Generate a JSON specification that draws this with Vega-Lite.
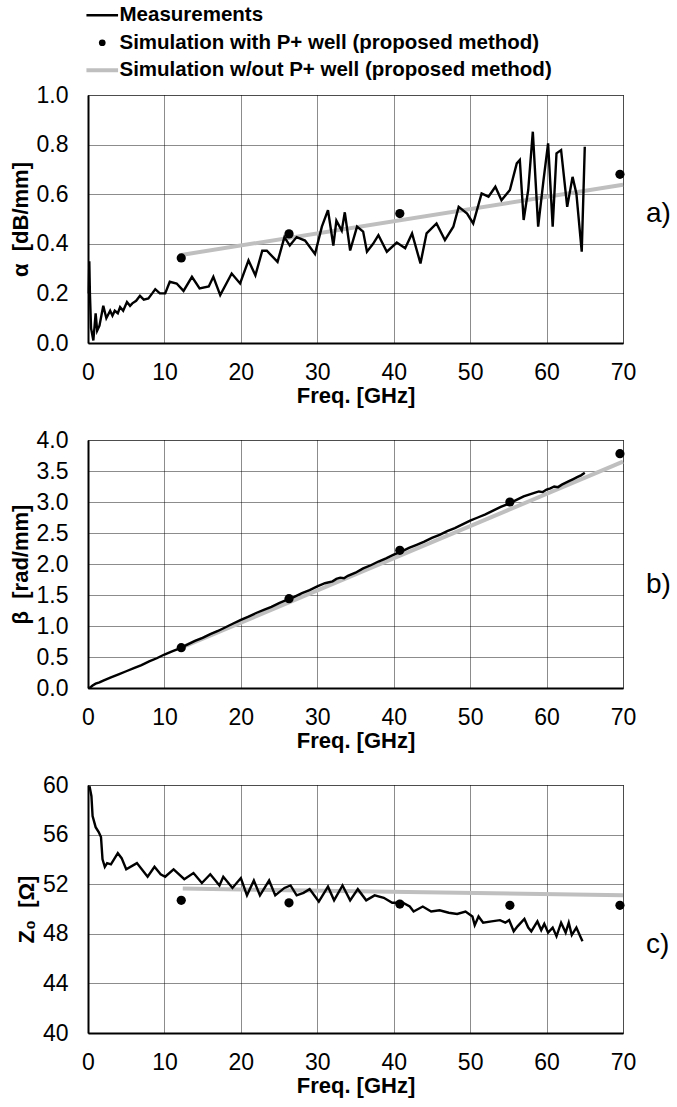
{
  "$schema": "https://vega.github.io/schema/vega-lite/v6.json",
  "padding": {"left": 8, "top": 5, "right": 2, "bottom": 5},
  "config": {
    "font": "Liberation Sans",
    "view": {"stroke": "#8c8c8c", "strokeWidth": 1},
    "axis": {
      "labelFont": "Liberation Sans", "labelFontSize": 23, "labelColor": "black",
      "titleFont": "Liberation Sans", "titleFontSize": 22, "titleFontWeight": "bold", "titleColor": "black",
      "domainColor": "black", "domainWidth": 2,
      "gridColor": "black", "gridDash": [1, 1], "gridOpacity": 0.9, "gridWidth": 1,
      "ticks": false, "labelFlush": false, "labelOverlap": false
    },
    "axisX": {"labelPadding": 18, "titlePadding": 1},
    "axisY": {"labelPadding": 20, "titlePadding": 4},
    "concat": {"spacing": 21}
  },
  "datasets": {
    "a_meas": [
      {"f":0.1,"v":0.2},{"f":0.17,"v":0.33},{"f":0.25,"v":0.2},{"f":0.4,"v":0.06},{"f":0.7,"v":0.01},{"f":1.0,"v":0.12},{"f":1.2,"v":0.05},{"f":1.5,"v":0.07},{"f":2.0,"v":0.15},{"f":2.4,"v":0.1},{"f":2.9,"v":0.13},{"f":3.2,"v":0.11},{"f":3.5,"v":0.13},{"f":3.9,"v":0.12},{"f":4.2,"v":0.145},{"f":4.6,"v":0.13},{"f":5.1,"v":0.165},{"f":5.5,"v":0.15},{"f":5.8,"v":0.16},{"f":6.3,"v":0.17},{"f":6.8,"v":0.19},{"f":7.3,"v":0.175},{"f":7.9,"v":0.18},{"f":8.4,"v":0.2},{"f":8.8,"v":0.217},{"f":9.4,"v":0.2},{"f":10.1,"v":0.2},{"f":10.7,"v":0.247},{"f":11.6,"v":0.24},{"f":12.5,"v":0.21},{"f":13.6,"v":0.267},{"f":14.6,"v":0.22},{"f":15.8,"v":0.228},{"f":16.4,"v":0.267},{"f":17.3,"v":0.193},{"f":18.8,"v":0.28},{"f":19.9,"v":0.24},{"f":21.0,"v":0.333},{"f":21.9,"v":0.273},{"f":22.8,"v":0.372},{"f":23.4,"v":0.372},{"f":24.8,"v":0.327},{"f":25.7,"v":0.427},{"f":26.4,"v":0.393},{"f":27.3,"v":0.427},{"f":28.4,"v":0.413},{"f":29.7,"v":0.359},{"f":30.6,"v":0.469},{"f":31.4,"v":0.536},{"f":32.1,"v":0.393},{"f":32.5,"v":0.493},{"f":33.2,"v":0.453},{"f":33.6,"v":0.527},{"f":34.3,"v":0.373},{"f":35.2,"v":0.469},{"f":36.0,"v":0.449},{"f":36.5,"v":0.368},{"f":37.3,"v":0.40},{"f":38.0,"v":0.435},{"f":39.1,"v":0.368},{"f":40.4,"v":0.405},{"f":41.5,"v":0.382},{"f":42.4,"v":0.442},{"f":43.5,"v":0.321},{"f":44.3,"v":0.442},{"f":45.6,"v":0.482},{"f":46.7,"v":0.415},{"f":47.8,"v":0.469},{"f":48.5,"v":0.549},{"f":49.6,"v":0.522},{"f":50.4,"v":0.482},{"f":51.5,"v":0.603},{"f":52.4,"v":0.59},{"f":53.3,"v":0.63},{"f":54.1,"v":0.576},{"f":55.2,"v":0.617},{"f":56.1,"v":0.724},{"f":56.5,"v":0.738},{"f":57.0,"v":0.496},{"f":57.6,"v":0.617},{"f":58.2,"v":0.852},{"f":58.9,"v":0.469},{"f":59.6,"v":0.657},{"f":60.2,"v":0.805},{"f":60.8,"v":0.469},{"f":61.3,"v":0.765},{"f":61.9,"v":0.778},{"f":62.7,"v":0.549},{"f":63.4,"v":0.67},{"f":63.9,"v":0.603},{"f":64.6,"v":0.368},{"f":65.0,"v":0.791}
    ],
    "a_simw": [{"f":12.2,"v":0.343},{"f":26.3,"v":0.44},{"f":40.8,"v":0.522},{"f":69.6,"v":0.68}],
    "a_simwo": [{"f":12.2,"v":0.355},{"f":70,"v":0.638}],
    "b_meas": [
      {"f":0,"v":0},{"f":0.3,"v":0.01},{"f":0.6,"v":0.04},{"f":1,"v":0.07},{"f":1.5,"v":0.09},{"f":2,"v":0.12},{"f":3,"v":0.17},{"f":4,"v":0.22},{"f":5,"v":0.27},{"f":6,"v":0.32},{"f":7,"v":0.37},{"f":8,"v":0.43},{"f":9,"v":0.48},{"f":10,"v":0.54},{"f":11,"v":0.59},{"f":12,"v":0.64},{"f":13,"v":0.7},{"f":14,"v":0.76},{"f":15,"v":0.81},{"f":16,"v":0.87},{"f":17,"v":0.92},{"f":18,"v":0.98},{"f":19,"v":1.04},{"f":20,"v":1.1},{"f":21,"v":1.15},{"f":22,"v":1.21},{"f":23,"v":1.26},{"f":24,"v":1.31},{"f":25,"v":1.37},{"f":26,"v":1.42},{"f":27,"v":1.47},{"f":28,"v":1.53},{"f":29,"v":1.58},{"f":30,"v":1.64},{"f":31,"v":1.69},{"f":32,"v":1.72},{"f":32.5,"v":1.76},{"f":33,"v":1.78},{"f":33.5,"v":1.77},{"f":34,"v":1.81},{"f":35,"v":1.86},{"f":36,"v":1.93},{"f":37,"v":1.98},{"f":38,"v":2.04},{"f":39,"v":2.09},{"f":40,"v":2.15},{"f":41,"v":2.2},{"f":42,"v":2.26},{"f":43,"v":2.31},{"f":44,"v":2.36},{"f":45,"v":2.42},{"f":46,"v":2.47},{"f":47,"v":2.53},{"f":48,"v":2.58},{"f":49,"v":2.64},{"f":50,"v":2.7},{"f":51,"v":2.75},{"f":52,"v":2.8},{"f":53,"v":2.86},{"f":54,"v":2.92},{"f":55,"v":2.97},{"f":56,"v":3.03},{"f":57,"v":3.09},{"f":58,"v":3.13},{"f":58.5,"v":3.15},{"f":59,"v":3.17},{"f":59.5,"v":3.16},{"f":60,"v":3.2},{"f":60.5,"v":3.22},{"f":61,"v":3.25},{"f":61.5,"v":3.24},{"f":62,"v":3.28},{"f":63,"v":3.34},{"f":63.5,"v":3.37},{"f":64,"v":3.4},{"f":64.5,"v":3.43},{"f":65,"v":3.47}
    ],
    "b_simw": [{"f":12.2,"v":0.65},{"f":26.3,"v":1.44},{"f":40.8,"v":2.22},{"f":55.2,"v":3.0},{"f":69.6,"v":3.78}],
    "b_simwo": [{"f":12.2,"v":0.65},{"f":70,"v":3.65}],
    "c_meas": [
      {"f":0.2,"v":59.9},{"f":0.45,"v":59.1},{"f":0.6,"v":57.5},{"f":1.0,"v":56.6},{"f":1.4,"v":56.2},{"f":1.7,"v":55.8},{"f":1.9,"v":54.0},{"f":2.2,"v":53.4},{"f":2.5,"v":53.7},{"f":3.0,"v":53.6},{"f":3.9,"v":54.5},{"f":4.4,"v":54.1},{"f":5.0,"v":53.2},{"f":6.4,"v":53.7},{"f":7.8,"v":52.6},{"f":8.7,"v":53.4},{"f":9.5,"v":52.8},{"f":10.1,"v":52.6},{"f":11.2,"v":53.2},{"f":12.6,"v":52.4},{"f":13.8,"v":52.9},{"f":14.9,"v":52.1},{"f":16.0,"v":52.8},{"f":17.2,"v":51.9},{"f":17.7,"v":52.6},{"f":18.9,"v":51.7},{"f":20.0,"v":52.5},{"f":20.8,"v":51.1},{"f":21.7,"v":52.3},{"f":22.5,"v":51.1},{"f":23.7,"v":52.3},{"f":24.5,"v":51.1},{"f":25.7,"v":51.7},{"f":26.5,"v":51.9},{"f":27.3,"v":51.1},{"f":28.2,"v":51.3},{"f":29.0,"v":51.6},{"f":30.2,"v":50.6},{"f":31.4,"v":51.8},{"f":32.2,"v":50.7},{"f":33.3,"v":51.9},{"f":34.3,"v":50.7},{"f":35.3,"v":51.6},{"f":36.4,"v":50.7},{"f":37.5,"v":51.1},{"f":38.7,"v":50.9},{"f":39.8,"v":50.5},{"f":41.2,"v":50.5},{"f":42.1,"v":50.2},{"f":42.6,"v":49.8},{"f":43.8,"v":50.2},{"f":44.9,"v":49.8},{"f":46.0,"v":49.9},{"f":47.2,"v":49.7},{"f":48.3,"v":49.6},{"f":49.4,"v":49.8},{"f":50.3,"v":49.4},{"f":50.6,"v":48.7},{"f":51.1,"v":49.4},{"f":51.7,"v":48.9},{"f":52.8,"v":49.0},{"f":53.9,"v":49.1},{"f":54.6,"v":48.9},{"f":55.1,"v":49.1},{"f":55.7,"v":48.2},{"f":56.2,"v":48.6},{"f":57.1,"v":49.2},{"f":57.6,"v":48.5},{"f":58.0,"v":48.2},{"f":58.8,"v":49.0},{"f":59.3,"v":48.3},{"f":59.7,"v":48.8},{"f":60.2,"v":48.1},{"f":60.8,"v":48.5},{"f":61.3,"v":47.8},{"f":61.9,"v":48.9},{"f":62.5,"v":48.1},{"f":62.9,"v":48.9},{"f":63.3,"v":47.9},{"f":63.9,"v":48.5},{"f":64.4,"v":47.8},{"f":64.7,"v":47.4}
    ],
    "c_simw": [{"f":12.2,"v":50.7},{"f":26.3,"v":50.5},{"f":40.8,"v":50.4},{"f":55.2,"v":50.3},{"f":69.6,"v":50.3}],
    "c_simwo": [{"f":12.4,"v":51.65},{"f":70,"v":51.1}]
  },
  "vconcat": [
    {
      "width": 535, "height": 248,
      "layer": [
        {"data": {"name": "a_simwo"}, "mark": {"type": "line", "strokeWidth": 4},
         "encoding": {
           "x": {"field": "f", "type": "quantitative", "scale": {"domain": [0, 70], "nice": false}, "axis": {"values": [0,10,20,30,40,50,60,70], "title": "Freq. [GHz]"}},
           "y": {"field": "v", "type": "quantitative", "scale": {"domain": [0, 1], "nice": false}, "axis": {"values": [0,0.2,0.4,0.6,0.8,1.0], "tickCount": 6, "format": ".1f", "title": "α\u00a0 [dB/mm]"}},
           "color": {"datum": "Simulation w/out P+ well (proposed method)", "type": "nominal",
             "scale": {"domain": ["Measurements", "Simulation with P+ well (proposed method)", "Simulation w/out P+ well (proposed method)"], "range": ["black", "black", "#bfbfbf"]},
             "legend": {
               "orient": "none", "legendX": 4, "legendY": -90, "title": null,
               "labelFont": "Liberation Sans", "labelFontSize": 20.5, "labelFontWeight": "bold", "labelColor": "black", "labelLimit": 600,
               "symbolType": "stroke", "symbolSize": 900, "rowPadding": 6.5, "labelOffset": 7,
               "encode": {"symbols": {"update": {
                 "shape": {"signal": "datum.value === 'Simulation with P+ well (proposed method)' ? 'circle' : 'stroke'"},
                 "size": {"signal": "datum.value === 'Simulation with P+ well (proposed method)' ? 45 : 1000"},
                 "fill": {"signal": "datum.value === 'Simulation with P+ well (proposed method)' ? 'black' : 'transparent'"},
                 "stroke": {"signal": "datum.value === 'Simulation w/out P+ well (proposed method)' ? '#bfbfbf' : 'black'"},
                 "strokeWidth": {"signal": "datum.value === 'Simulation with P+ well (proposed method)' ? 0 : (datum.value === 'Measurements' ? 2.5 : 4)"},
                 "opacity": {"value": 1}
               }}}
             }}
         }},
        {"data": {"name": "a_meas"}, "mark": {"type": "line", "strokeWidth": 2.4},
         "encoding": {"x": {"field": "f", "type": "quantitative"}, "y": {"field": "v", "type": "quantitative"}, "color": {"datum": "Measurements", "type": "nominal"}}},
        {"data": {"name": "a_simw"}, "mark": {"type": "point", "filled": true, "size": 85, "opacity": 1},
         "encoding": {"x": {"field": "f", "type": "quantitative"}, "y": {"field": "v", "type": "quantitative"}, "color": {"datum": "Simulation with P+ well (proposed method)", "type": "nominal"}}},
        {"data": {"values": [{"t": "a)"}]}, "mark": {"type": "text", "fontSize": 28, "font": "Liberation Sans", "color": "black", "align": "left"},
         "encoding": {"text": {"field": "t"}, "x": {"datum": 73}, "y": {"datum": 0.52}}}
      ]
    },
    {
      "width": 535, "height": 248,
      "layer": [
        {"data": {"name": "b_simwo"}, "mark": {"type": "line", "strokeWidth": 4},
         "encoding": {
           "x": {"field": "f", "type": "quantitative", "scale": {"domain": [0, 70], "nice": false}, "axis": {"values": [0,10,20,30,40,50,60,70], "title": "Freq. [GHz]"}},
           "y": {"field": "v", "type": "quantitative", "scale": {"domain": [0, 4], "nice": false}, "axis": {"values": [0,0.5,1,1.5,2,2.5,3,3.5,4], "tickCount": 9, "format": ".1f", "title": "β\u00a0 [rad/mm]"}},
           "color": {"datum": "Simulation w/out P+ well (proposed method)", "type": "nominal"}
         }},
        {"data": {"name": "b_meas"}, "mark": {"type": "line", "strokeWidth": 2.4},
         "encoding": {"x": {"field": "f", "type": "quantitative"}, "y": {"field": "v", "type": "quantitative"}, "color": {"datum": "Measurements", "type": "nominal"}}},
        {"data": {"name": "b_simw"}, "mark": {"type": "point", "filled": true, "size": 85, "opacity": 1},
         "encoding": {"x": {"field": "f", "type": "quantitative"}, "y": {"field": "v", "type": "quantitative"}, "color": {"datum": "Simulation with P+ well (proposed method)", "type": "nominal"}}},
        {"data": {"values": [{"t": "b)"}]}, "mark": {"type": "text", "fontSize": 28, "font": "Liberation Sans", "color": "black", "align": "left"},
         "encoding": {"text": {"field": "t"}, "x": {"datum": 73}, "y": {"datum": 1.66}}}
      ]
    },
    {
      "width": 535, "height": 248,
      "layer": [
        {"data": {"name": "c_simwo"}, "mark": {"type": "line", "strokeWidth": 4},
         "encoding": {
           "x": {"field": "f", "type": "quantitative", "scale": {"domain": [0, 70], "nice": false}, "axis": {"values": [0,10,20,30,40,50,60,70], "title": "Freq. [GHz]"}},
           "y": {"field": "v", "type": "quantitative", "scale": {"domain": [40, 60], "nice": false}, "axis": {"values": [40,44,48,52,56,60], "tickCount": 6, "title": "Z₀\u00a0 [Ω]"}},
           "color": {"datum": "Simulation w/out P+ well (proposed method)", "type": "nominal"}
         }},
        {"data": {"name": "c_meas"}, "mark": {"type": "line", "strokeWidth": 2.4},
         "encoding": {"x": {"field": "f", "type": "quantitative"}, "y": {"field": "v", "type": "quantitative"}, "color": {"datum": "Measurements", "type": "nominal"}}},
        {"data": {"name": "c_simw"}, "mark": {"type": "point", "filled": true, "size": 85, "opacity": 1},
         "encoding": {"x": {"field": "f", "type": "quantitative"}, "y": {"field": "v", "type": "quantitative"}, "color": {"datum": "Simulation with P+ well (proposed method)", "type": "nominal"}}},
        {"data": {"values": [{"t": "c)"}]}, "mark": {"type": "text", "fontSize": 28, "font": "Liberation Sans", "color": "black", "align": "left"},
         "encoding": {"text": {"field": "t"}, "x": {"datum": 73}, "y": {"datum": 47.1}}}
      ]
    }
  ]
}
